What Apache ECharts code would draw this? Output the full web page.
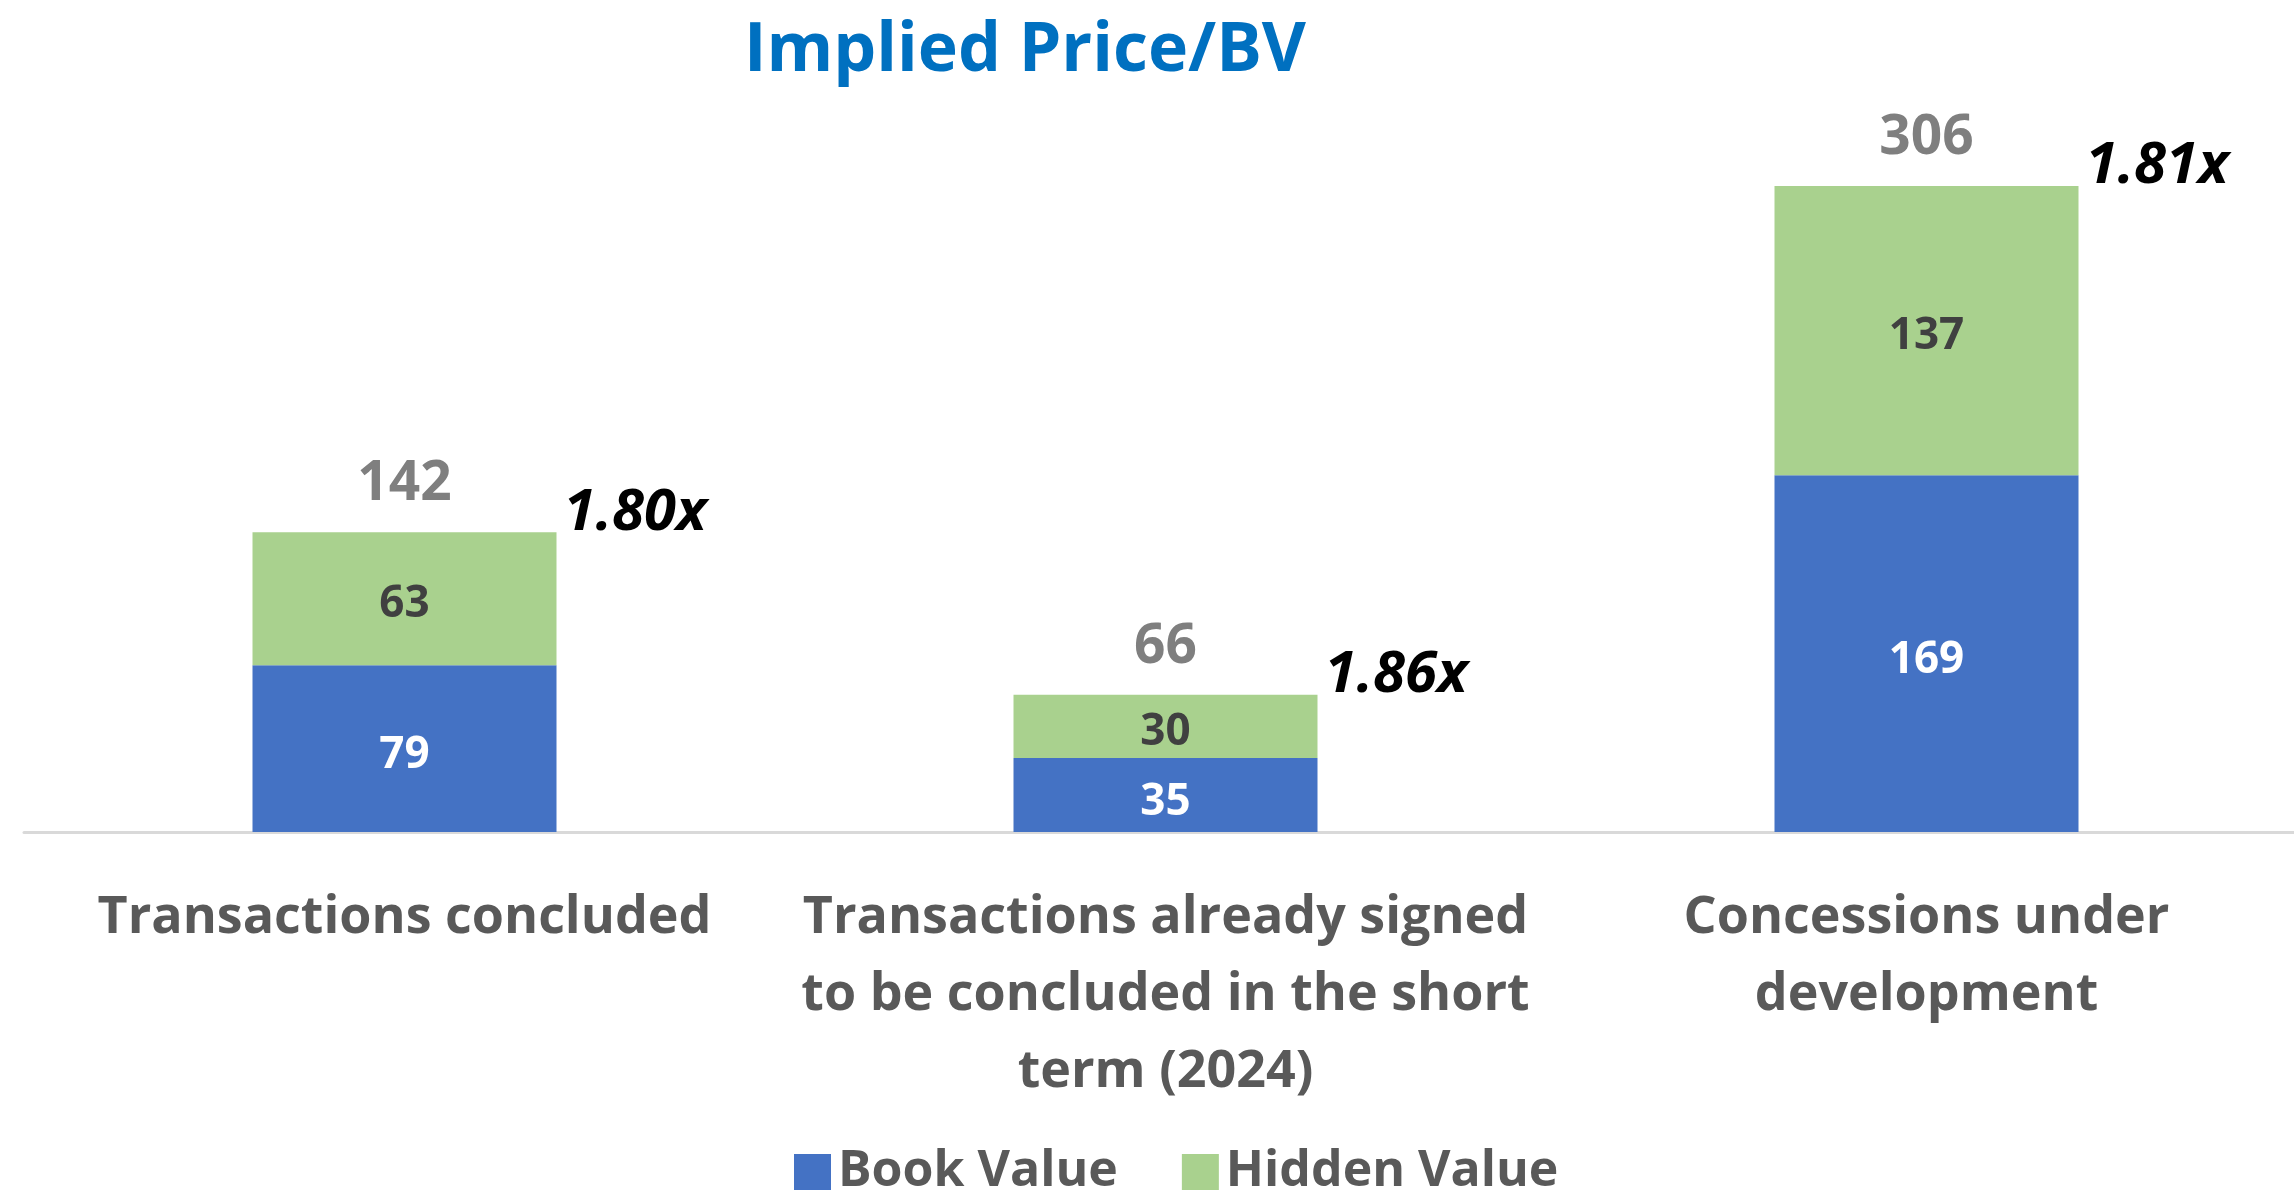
<!DOCTYPE html>
<html lang="en">
<head>
    <meta charset="UTF-8">
    <title>Implied Price/BV</title>
    <script src="https://cdn.jsdelivr.net/npm/echarts@6/dist/echarts.min.js"></script>
    <style>
        html, body { margin: 0; padding: 0; background: #fff; }
        #chart { width: 2294px; height: 1193px; }
    </style>
</head>
<body>
    <div id="chart"></div>

    <script>
        const categories = [
            'Transactions concluded',
            'Transactions already signed\nto be concluded in the short\nterm (2024)',
            'Concessions under\ndevelopment'
        ];
        const bookValue = [79, 35, 169];
        const hiddenValue = [63, 30, 137];
        const totals = [142, 66, 306];
        const ratios = ['1.80x', '1.86x', '1.81x'];

        const font = '"Open Sans", "Noto Sans", sans-serif';
        const chart = echarts.init(document.getElementById('chart'));

        const option = {
            animation: false,
            title: {
                text: 'Implied Price/BV',
                left: 1020,
                top: 13,
                textAlign: 'center',
                textStyle: { fontFamily: font, fontSize: 68, fontWeight: 'bold', color: '#0070c0' }
            },
            legend: {
                data: ['Book Value', 'Hidden Value'],
                left: 789,
                top: 1142,
                itemWidth: 37,
                itemHeight: 36,
                itemGap: 64,
                icon: 'rect',
                textStyle: { fontFamily: font, fontSize: 50, fontWeight: 'bold', color: '#595959', padding: [0, 0, 0, 2] }
            },
            // grid runs a bit past the right edge so the three bands are 761px wide
            grid: { left: 24, right: -13, top: 93, bottom: 361, outerBoundsMode: 'none' },
            xAxis: {
                type: 'category',
                data: categories,
                axisTick: { show: false },
                axisLine: { lineStyle: { color: '#d9d9d9', width: 3 } },
                axisLabel: {
                    margin: 48,
                    fontFamily: font, fontSize: 52, fontWeight: 'bold', color: '#595959',
                    lineHeight: 77, interval: 0
                }
            },
            yAxis: { type: 'value', min: 0, max: 350, show: false, splitLine: { show: false } },
            series: [
                {
                    name: 'Book Value', type: 'bar', stack: 'v', barWidth: 304,
                    data: bookValue,
                    itemStyle: { color: '#4472c4' },
                    label: { show: true, position: 'inside', offset: [0, 7], fontFamily: font, fontSize: 44, fontWeight: 'bold', color: '#ffffff' }
                },
                {
                    name: 'Hidden Value', type: 'bar', stack: 'v', barWidth: 304,
                    data: hiddenValue,
                    itemStyle: { color: '#a9d18e' },
                    label: { show: true, position: 'inside', offset: [0, 6], fontFamily: font, fontSize: 44, fontWeight: 'bold', color: '#404040' }
                },
                // zero-height bars on top of the stack, only there to carry the labels
                {
                    name: 'Total', type: 'bar', stack: 'v', barWidth: 304,
                    data: totals.map(() => 0),
                    itemStyle: { color: 'transparent' },
                    label: {
                        show: true, position: 'top', distance: 20,
                        formatter: (p) => totals[p.dataIndex],
                        fontFamily: font, fontSize: 55, fontWeight: 'bold', color: '#7f7f7f'
                    }
                },
                {
                    name: 'Ratio', type: 'bar', stack: 'v', barWidth: 304,
                    data: ratios.map(() => 0),
                    itemStyle: { color: 'transparent' },
                    label: {
                        show: true, position: ['100%', 0], align: 'left', verticalAlign: 'middle',
                        offset: [7, -19],
                        formatter: (p) => ratios[p.dataIndex],
                        fontFamily: font, fontSize: 58, fontWeight: 'bold', fontStyle: 'italic', color: '#000000'
                    }
                }
            ]
        };
        chart.setOption(option);
    </script>
</body>
</html>
